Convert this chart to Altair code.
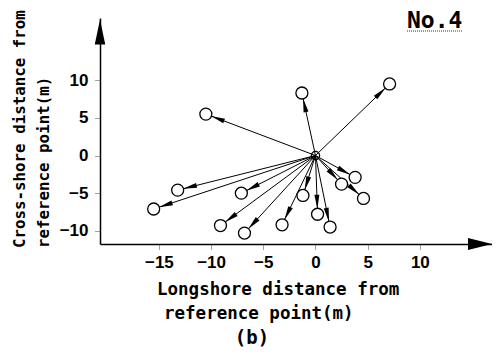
import altair as alt
import pandas as pd
import numpy as np

# ---- data ----
x_end = [-10.5, -1.3, 7.1, -13.2, -15.5, -7.1, -9.1, -6.8, -3.2, -1.2, 0.2, 1.4, 2.5, 3.8, 4.6]
y_end = [5.5, 8.3, 9.5, -4.6, -7.1, -5.0, -9.3, -10.3, -9.2, -5.3, -7.8, -9.5, -3.8, -2.9, -5.7]
x_ticks = [-15, -10, -5, 0, 5, 10]
y_ticks = [-10, -5, 0, 5, 10]
x_title = ["Longshore distance from", "reference point(m)"]
y_title = ["Cross-shore distance from", "reference point(m)"]
panel_label = "(b)"
case_label = "No.4"

# ---- layout ----
W, H = 392, 226
X_DOM = [-20.64, 16.91]
Y_DOM = [-11.75, 18.26]
kx = W / (X_DOM[1] - X_DOM[0])
ky = H / (Y_DOM[1] - Y_DOM[0])

df = pd.DataFrame({"x": x_end, "y": y_end})
df["x0"] = 0.0
df["y0"] = 0.0
df["ang"] = (np.degrees(np.arctan2(df["x"] * kx, df["y"] * ky)) + 360) % 360

origin = pd.DataFrame({"x": [0.0], "y": [0.0]})
one = pd.DataFrame({"k": [0]})

xs = alt.Scale(domain=X_DOM, nice=False, zero=False)
ys = alt.Scale(domain=Y_DOM, nice=False, zero=False)

LABEL_FONT = "Liberation Sans"
TITLE_FONT = "DejaVu Sans Mono"

xaxis = alt.Axis(values=x_ticks, title=None, grid=False, domainColor="black", domainWidth=1.5,
                 tickColor="#444", tickDash=[1, 1], tickSize=6, tickWidth=1,
                 labelFont=LABEL_FONT, labelFontSize=17, labelFontWeight="bold", labelColor="black",
                 labelPadding=4, labelFlush=False, labelOverlap=False)
yaxis = alt.Axis(values=y_ticks, title=None, grid=False, domainColor="black", domainWidth=1.5,
                 tickColor="#444", tickDash=[1, 1], tickSize=6, tickWidth=1,
                 labelFont=LABEL_FONT, labelFontSize=17, labelFontWeight="bold", labelColor="black",
                 labelPadding=6, labelFlush=False, labelOverlap=False)

lines = alt.Chart(df).mark_rule(color="black", strokeWidth=1).encode(
    x=alt.X("x0:Q", scale=xs, axis=xaxis),
    y=alt.Y("y0:Q", scale=ys, axis=yaxis),
    x2="x:Q", y2="y:Q")

HEAD = "M0,0.55L0.25,1.95L-0.25,1.95Z"
heads = alt.Chart(df).mark_point(shape=HEAD, filled=True, color="black", size=400, opacity=1).encode(
    x=alt.X("x:Q", scale=xs), y=alt.Y("y:Q", scale=ys),
    angle=alt.Angle("ang:Q", scale=None))

circles = alt.Chart(df).mark_point(shape="circle", filled=True, fill="white", stroke="black",
                                   strokeWidth=1.3, size=144, opacity=1).encode(
    x=alt.X("x:Q", scale=xs), y=alt.Y("y:Q", scale=ys))

center = alt.Chart(origin).mark_point(shape="circle", filled=False, stroke="black",
                                      strokeWidth=1.2, size=70, opacity=1).encode(
    x=alt.X("x:Q", scale=xs), y=alt.Y("y:Q", scale=ys))

xarrow = alt.Chart(one).mark_point(shape="M-1,-0.5L1,0L-1,0.5Z", filled=True, color="black",
                                   size=576, opacity=1).encode(x=alt.value(W - 12), y=alt.value(H))
yarrow = alt.Chart(one).mark_point(shape="M0,-1L0.42,1L-0.42,1Z", filled=True, color="black",
                                   size=625, opacity=1).encode(x=alt.value(0), y=alt.value(14))

def txt(text, x, y, size, align="left", angle=0, weight="bold", font=TITLE_FONT):
    kw = dict(text=text, align=align, baseline="alphabetic", font=font, fontSize=size,
              fontWeight=weight, color="black")
    if angle:
        kw["angle"] = angle
    return alt.Chart(one).mark_text(**kw).encode(x=alt.value(x), y=alt.value(y))

t_x1 = txt(x_title[0], 57, 276.5, 17.5)
t_x2 = txt(x_title[1], 64, 300.5, 17.5)
t_b = txt(panel_label, 152, 326, 19, align="center")
t_y1 = txt(y_title[0], -75, 230, 15.8, angle=270)
t_y2 = txt(y_title[1], -51, 230, 15.8, angle=270)
t_no = txt(case_label, 307, 10, 23, weight="bold")
underline = alt.Chart(one).mark_rule(color="#333", strokeWidth=1, strokeDash=[1, 1]).encode(
    x=alt.value(307), x2=alt.value(362), y=alt.value(13))

chart = alt.layer(lines, heads, circles, center, xarrow, yarrow,
                  t_x1, t_x2, t_b, t_y1, t_y2, t_no, underline).properties(
    width=W, height=H,
    autosize=alt.AutoSizeParams(type="none"),
    padding={"left": 92, "top": 10, "right": 0, "bottom": 104},
    background="white",
).configure_view(stroke=None)

chart.save("out.html", embed_options={"renderer": "svg", "actions": False})
